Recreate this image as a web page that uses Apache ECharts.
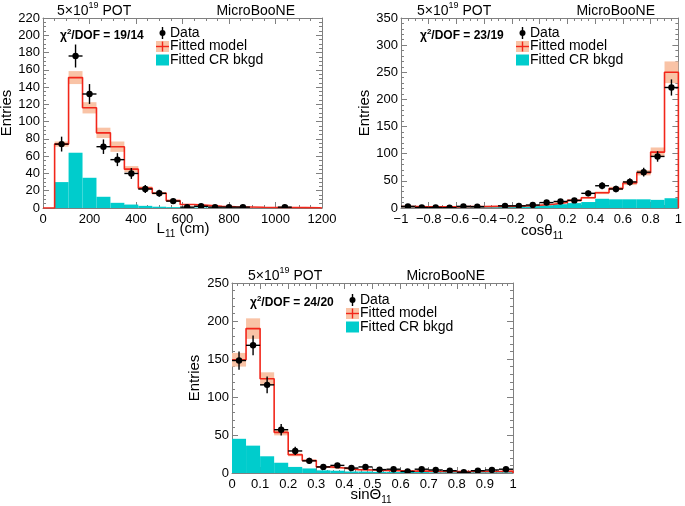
<!DOCTYPE html>
<html><head><meta charset="utf-8">
<script src="https://cdn.jsdelivr.net/npm/echarts@6/dist/echarts.min.js"></script>
<style>html,body{margin:0;padding:0;background:#fff}#c{width:685px;height:506px}</style>
</head><body><div id="c"></div><script>
const FONT = '"Liberation Sans", Arial, Helvetica, sans-serif';

// ---------- Panel 1 : L11 (cm), 19 bins of 60 cm from 50 to 1190 ----------
const lenEdges = [50,110,170,230,290,350,410,470,530,590,650,710,770,830,890,950,1010,1070,1130,1190];
const lenModel = [74,151,116,87,71,45,23,17,8.5,4,3,2,1.5,1.2,0.8,0.6,0.5,0.4,0.3];
const lenBand  = [3,7.5,6.5,6,6,3.5,2,1.5,1,0.6,0.5,0.4,0.3,0.2,0.2,0.1,0.1,0.1,0.1];
const lenCR    = [30,64,35,13,6,4,2.5,1.5,1,0.8,0.6,0.5,0.4,0.3,0.2,0.2,0.2,0.1,0.1];
const lenData  = [74,176,132,71,56,40,22,17,8,1,2,1,1,1,null,null,1,null,null];
const lenErr   = [8.6,13.3,11.5,8.4,7.5,6.3,4.7,4.1,2.8,1,1.4,1,1,1,0,0,1,0,0];

// ---------- Panel 2 : cos theta11, 20 bins of 0.1 from -1 to 1 ----------
const cosEdges = [-1,-0.9,-0.8,-0.7,-0.6,-0.5,-0.4,-0.3,-0.2,-0.1,0,0.1,0.2,0.3,0.4,0.5,0.6,0.7,0.8,0.9,1];
const cosModel = [2.5,2,2,2,2.5,2.5,3,3,4,5,7,10,14,19,28,36,46,65,103,250];
const cosBand  = [0.3,0.3,0.3,0.3,0.3,0.3,0.4,0.4,0.5,0.5,0.7,1,1.3,1.7,2.4,3,3.8,5,8.5,20];
const cosCR    = [1.5,1,1,1,1.5,1.5,1.5,2,2.5,3.5,5,7,9,11,17,16,16,16,15,18];
const cosData  = [3,1,1,0.5,3,2.5,null,4,4,5.5,10,12,14,27,41,35,48,66,95,222];
const cosErr   = [1.7,1,1,0.7,1.7,1.6,0,2,2,2.3,3.2,3.5,3.7,5.2,6.4,5.9,6.9,8.1,9.7,14.9];

// ---------- Panel 3 : sin Theta11, 20 bins of 0.05 from 0 to 1 ----------
const sinEdges = [0,0.05,0.1,0.15,0.2,0.25,0.3,0.35,0.4,0.45,0.5,0.55,0.6,0.65,0.7,0.75,0.8,0.85,0.9,0.95,1];
const sinModel = [149,190,124,53.5,24,16.5,8,6.5,4.5,4,3.5,3,2.5,2.5,2,2,2,2,2,2.5];
const sinBand  = [9,13.5,8.5,4,2,1.3,0.7,0.5,0.4,0.3,0.3,0.3,0.2,0.2,0.2,0.2,0.2,0.2,0.2,0.2];
const sinCR    = [45,36,22,13.5,8,6,3.5,3,2,2,1.5,1.5,1.5,1.5,1,1,1,1,1,1];
const sinData  = [148,168,116,57,29,16,8,10,6.5,8,4.5,5,2,5,4,3,1,3,4,5];
const sinErr   = [12,13,11,7.5,5.4,4,2.8,3.2,2.5,2.8,2.1,2.2,1.4,2.2,2,1.7,1,1.7,2,2.2];

// tick labels / axis settings
const panels = [
  {edges: lenEdges, model: lenModel, band: lenBand, cr: lenCR, data: lenData, err: lenErr,
   grid: {left: 43, top: 18, width: 279, height: 190}, xMin: 0, xMax: 1200, xInt: 200, xMinor: 4,
   yMax: 220, yInt: 20, yMinor: 4, leadZero: true},
  {edges: cosEdges, model: cosModel, band: cosBand, cr: cosCR, data: cosData, err: cosErr,
   grid: {left: 401, top: 18, width: 281, height: 190}, xMin: -1, xMax: 1, xInt: 0.2, xMinor: 4,
   yMax: 350, yInt: 50, yMinor: 5, leadZero: false},
  {edges: sinEdges, model: sinModel, band: sinBand, cr: sinCR, data: sinData, err: sinErr,
   grid: {left: 232, top: 283, width: 281, height: 190}, xMin: 0, xMax: 1, xInt: 0.1, xMinor: 5,
   yMax: 250, yInt: 50, yMinor: 5, leadZero: false}
];

const AX = '#808080';
const RED = '#f2261a';
const CYAN = '#00cccc';
const SALMON = '#f9c3a6';

function fmtNum(v) {
  if (Math.abs(v) < 1e-9) return '0';
  const s = String(+Math.abs(v).toFixed(3));
  return (v < 0 ? '\u2212' : '') + s;
}

function axisBase(show) {
  return {
    axisLine: {show: true, onZero: false, lineStyle: {color: AX, width: 1}},
    axisTick: {show: true, inside: true, length: 6, lineStyle: {color: AX}},
    minorTick: {show: true, length: 3, lineStyle: {color: AX}},
    splitLine: {show: false},
    axisLabel: {show: show, color: '#000', fontFamily: FONT, fontSize: 13, formatter: fmtNum,
                showMinLabel: true, showMaxLabel: true}
  };
}

const grids = [], xAxes = [], yAxes = [], series = [];
panels.forEach((p, i) => {
  grids.push(Object.assign({containLabel: false}, p.grid));
  const xb = axisBase(true); xb.axisLabel.margin = 5;
  xAxes.push(Object.assign(xb, {type: 'value', gridIndex: i, position: 'bottom', min: p.xMin, max: p.xMax, interval: p.xInt}));
  xAxes[xAxes.length - 1].minorTick.splitNumber = p.xMinor;
  const xt = axisBase(false);
  xAxes.push(Object.assign(xt, {type: 'value', gridIndex: i, position: 'top', min: p.xMin, max: p.xMax, interval: p.xInt}));
  xAxes[xAxes.length - 1].minorTick.splitNumber = p.xMinor;
  const yl = axisBase(true); yl.axisLabel.margin = 3;
  yAxes.push(Object.assign(yl, {type: 'value', gridIndex: i, position: 'left', min: 0, max: p.yMax, interval: p.yInt}));
  yAxes[yAxes.length - 1].minorTick.splitNumber = p.yMinor;
  const yr = axisBase(false);
  yAxes.push(Object.assign(yr, {type: 'value', gridIndex: i, position: 'right', min: 0, max: p.yMax, interval: p.yInt}));
  yAxes[yAxes.length - 1].minorTick.splitNumber = p.yMinor;

  const xi = 2 * i, yi = 2 * i;
  const n = p.model.length;
  // uncertainty band
  const bandData = [], crData = [], ptData = [], stepData = [];
  for (let k = 0; k < n; k++) {
    bandData.push([p.edges[k], p.edges[k + 1], p.model[k] - p.band[k], p.model[k] + p.band[k]]);
    crData.push([p.edges[k], p.edges[k + 1], p.cr[k]]);
    if (p.data[k] !== null) {
      ptData.push([(p.edges[k] + p.edges[k + 1]) / 2, p.data[k], (p.edges[k + 1] - p.edges[k]) / 2, p.err[k]]);
    }
  }
  if (p.leadZero) stepData.push([p.xMin, 0]);
  for (let k = 0; k < n; k++) stepData.push([p.edges[k], p.model[k]]);
  stepData.push([p.edges[n], 0]);
  if (p.edges[n] < p.xMax) stepData.push([p.xMax, 0]);

  series.push({
    type: 'custom', xAxisIndex: xi, yAxisIndex: yi, z: 1, clip: true, silent: true,
    encode: {x: [0, 1], y: [2, 3]}, data: bandData,
    renderItem: (params, api) => {
      const a = api.coord([api.value(0), api.value(3)]);
      const b = api.coord([api.value(1), api.value(2)]);
      return {type: 'rect', shape: {x: a[0], y: a[1], width: b[0] - a[0], height: b[1] - a[1]}, style: {fill: SALMON}};
    }
  });
  series.push({
    type: 'custom', xAxisIndex: xi, yAxisIndex: yi, z: 2, clip: true, silent: true,
    encode: {x: [0, 1], y: 2}, data: crData,
    renderItem: (params, api) => {
      const a = api.coord([api.value(0), api.value(2)]);
      const b = api.coord([api.value(1), 0]);
      return {type: 'rect', shape: {x: a[0], y: a[1], width: b[0] - a[0], height: b[1] - a[1]}, style: {fill: CYAN}};
    }
  });
  series.push({
    type: 'line', xAxisIndex: xi, yAxisIndex: yi, z: 3, step: 'end', symbol: 'none', silent: true,
    data: stepData, lineStyle: {color: RED, width: 1.6}, clip: true
  });
  series.push({
    type: 'custom', xAxisIndex: xi, yAxisIndex: yi, z: 4, clip: true, silent: true,
    encode: {x: 0, y: 1}, data: ptData,
    renderItem: (params, api) => {
      const xc = api.value(0), y = api.value(1), xe = api.value(2), ye = api.value(3);
      const c = api.coord([xc, y]);
      const l = api.coord([xc - xe, y]), r = api.coord([xc + xe, y]);
      const t = api.coord([xc, y + ye]), b = api.coord([xc, Math.max(0, y - ye)]);
      return {type: 'group', children: [
        {type: 'line', shape: {x1: l[0], y1: l[1], x2: r[0], y2: r[1]}, style: {stroke: '#000', lineWidth: 1.4}},
        {type: 'line', shape: {x1: t[0], y1: t[1], x2: b[0], y2: b[1]}, style: {stroke: '#000', lineWidth: 1.4}},
        {type: 'circle', shape: {cx: c[0], cy: c[1], r: 3.2}, style: {fill: '#000'}}
      ]};
    }
  });
});

// ---------- text and legends ----------
const rich = {
  sup: {fontSize: 9, fontFamily: FONT, padding: [0, 0, 10, 0], fill: '#000'},
  sub: {fontSize: 10, fontFamily: FONT, padding: [10, 0, 0, 0], fill: '#000'},
  bsup: {fontSize: 8, fontFamily: FONT, fontWeight: 'bold', padding: [0, 0, 9, 0], fill: '#000'}
};
function txt(x, y, text, opt) {
  return Object.assign({type: 'text', x: x, y: y, style: Object.assign({
    text: text, fill: '#000', font: '14px ' + FONT, fontSize: 14, fontFamily: FONT,
    textAlign: 'left', textVerticalAlign: 'middle', rich: rich}, opt || {})}, {});
}
const titles = [
  {potX: 57, booX: 295, y: 11, chiX: 60, chiY: 36, chi: '19/14', legX: 156, legY: 33,
   entX: 7, entY: 113, xtX: 183, xtY: 229, xt: 'L{sub|11} (cm)'},
  {potX: 417, booX: 655, y: 11, chiX: 420, chiY: 36, chi: '23/19', legX: 516, legY: 33,
   entX: 365, entY: 113, xtX: 542, xtY: 231, xt: 'cos\u03b8{sub|11}'},
  {potX: 248, booX: 485, y: 276, chiX: 250, chiY: 303, chi: '24/20', legX: 346, legY: 300,
   entX: 195, entY: 378, xtX: 371, xtY: 495, xt: 'sin\u0398{sub|11}'}
];
const graphic = [];
titles.forEach(t => {
  graphic.push({type: 'text', x: t.potX, y: t.y, style: {text: '5\u00d710{sup|19} POT', fontSize: 14, fontFamily: FONT, fill: '#000', verticalAlign: 'middle', align: 'left', rich: rich}});
  graphic.push({type: 'text', x: t.booX, y: t.y, style: {text: 'MicroBooNE', fontSize: 14, fontFamily: FONT, fill: '#000', verticalAlign: 'middle', align: 'right'}});
  graphic.push({type: 'text', x: t.chiX, y: t.chiY, style: {text: '\u03c7{bsup|2}/DOF = ' + t.chi, fontSize: 12, fontWeight: 'bold', fontFamily: FONT, fill: '#000', verticalAlign: 'middle', align: 'left', rich: rich}});
  graphic.push({type: 'text', x: t.entX, y: t.entY, rotation: Math.PI / 2, style: {text: 'Entries', fontSize: 15, fontFamily: FONT, fill: '#000', verticalAlign: 'middle', align: 'center'}});
  graphic.push({type: 'text', x: t.xtX, y: t.xtY, style: {text: t.xt, fontSize: 15, fontFamily: FONT, fill: '#000', verticalAlign: 'middle', align: 'center', rich: rich}});
  const lx = t.legX, ly = t.legY, cx = lx + 6.5;
  // Data
  graphic.push({type: 'line', shape: {x1: cx, y1: ly - 6, x2: cx, y2: ly + 6}, style: {stroke: '#000', lineWidth: 1.4}});
  graphic.push({type: 'circle', shape: {cx: cx, cy: ly, r: 3}, style: {fill: '#000'}});
  graphic.push({type: 'text', x: lx + 14, y: ly, style: {text: 'Data', fontSize: 14, fontFamily: FONT, fill: '#000', verticalAlign: 'middle', align: 'left'}});
  // Fitted model
  const my = ly + 13.5;
  graphic.push({type: 'rect', shape: {x: lx, y: my - 5.5, width: 13, height: 11}, style: {fill: SALMON}});
  graphic.push({type: 'line', shape: {x1: lx, y1: my, x2: lx + 13, y2: my}, style: {stroke: RED, lineWidth: 1.4}});
  graphic.push({type: 'line', shape: {x1: cx, y1: my - 5, x2: cx, y2: my + 5}, style: {stroke: RED, lineWidth: 1.4}});
  graphic.push({type: 'text', x: lx + 14, y: my, style: {text: 'Fitted model', fontSize: 14, fontFamily: FONT, fill: '#000', verticalAlign: 'middle', align: 'left'}});
  // CR bkgd
  const cy = ly + 27;
  graphic.push({type: 'rect', shape: {x: lx, y: cy - 5.5, width: 13, height: 11}, style: {fill: CYAN}});
  graphic.push({type: 'text', x: lx + 14, y: cy, style: {text: 'Fitted CR bkgd', fontSize: 14, fontFamily: FONT, fill: '#000', verticalAlign: 'middle', align: 'left'}});
});

const chart = echarts.init(document.getElementById('c'), null, {renderer: 'canvas'});
chart.setOption({
  animation: false,
  backgroundColor: '#fff',
  textStyle: {fontFamily: FONT},
  grid: grids, xAxis: xAxes, yAxis: yAxes, series: series,
  graphic: {elements: graphic}
});
</script></body></html>
